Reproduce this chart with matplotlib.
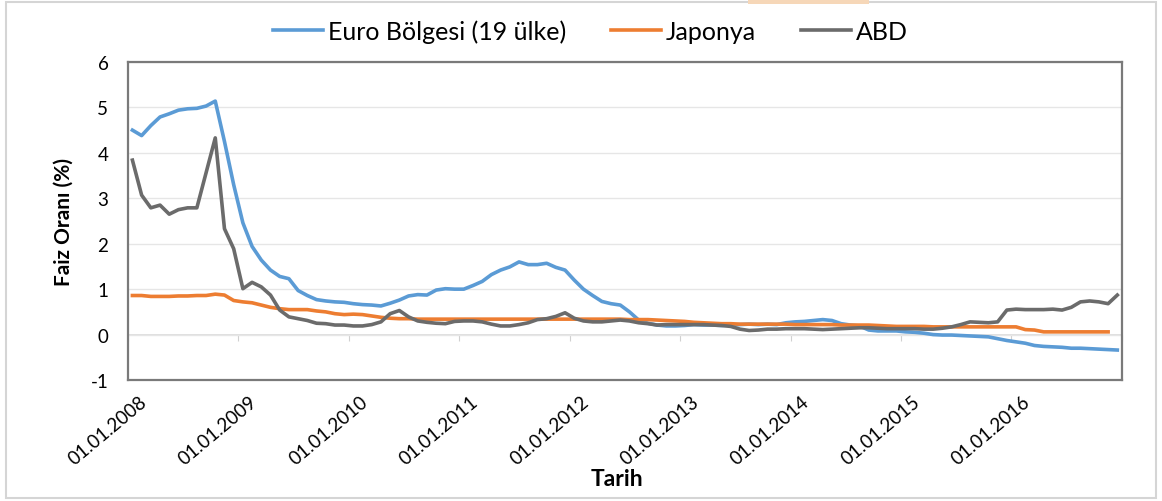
import matplotlib
matplotlib.use("Agg")
import matplotlib.pyplot as plt
import matplotlib.transforms as mtransforms
from matplotlib.patches import Rectangle
import numpy as np

plt.rcParams['font.family'] = ['Lato', 'DejaVu Sans']
plt.rcParams['axes.unicode_minus'] = False

# aylik faiz oranlari, Ocak 2008 - Aralik 2016
years = ['2008', '2009', '2010', '2011', '2012', '2013', '2014', '2015', '2016']
tick_labels = ['01.01.' + y for y in years]

euro = [
    4.50, 4.38, 4.60, 4.79, 4.86, 4.94, 4.97, 4.98, 5.03, 5.14, 4.25, 3.30,
    2.46, 1.94, 1.64, 1.42, 1.28, 1.23, 0.97, 0.86, 0.77, 0.74, 0.72, 0.71,
    0.68, 0.66, 0.65, 0.63, 0.69, 0.76, 0.85, 0.88, 0.87, 0.98, 1.01, 1.00,
    1.00, 1.08, 1.17, 1.32, 1.42, 1.49, 1.60, 1.54, 1.54, 1.57, 1.48, 1.42,
    1.20, 1.00, 0.86, 0.73, 0.68, 0.65, 0.50, 0.32, 0.25, 0.21, 0.19, 0.19,
    0.20, 0.22, 0.21, 0.21, 0.20, 0.21, 0.22, 0.23, 0.22, 0.23, 0.22, 0.26,
    0.28, 0.29, 0.31, 0.33, 0.31, 0.24, 0.21, 0.19, 0.10, 0.08, 0.08, 0.08,
    0.06, 0.05, 0.03, 0.00, -0.01, -0.01, -0.02, -0.03, -0.04, -0.05, -0.09, -0.13,
    -0.16, -0.19, -0.24, -0.26, -0.27, -0.28, -0.30, -0.30, -0.31, -0.32, -0.33, -0.34,
]

# Japonya serisi Kasim 2016'da bitiyor
japonya = [
    0.86, 0.86, 0.84, 0.84, 0.84, 0.85, 0.85, 0.86, 0.86, 0.89, 0.87, 0.75,
    0.72, 0.70, 0.65, 0.60, 0.57, 0.55, 0.55, 0.55, 0.52, 0.50, 0.46, 0.44,
    0.45, 0.44, 0.41, 0.38, 0.36, 0.35, 0.35, 0.34, 0.34, 0.34, 0.34, 0.34,
    0.34, 0.34, 0.34, 0.34, 0.34, 0.34, 0.34, 0.34, 0.34, 0.34, 0.34, 0.34,
    0.34, 0.34, 0.34, 0.34, 0.34, 0.34, 0.33, 0.33, 0.33, 0.32, 0.31, 0.30,
    0.29, 0.27, 0.26, 0.25, 0.24, 0.24, 0.23, 0.23, 0.23, 0.23, 0.23, 0.23,
    0.22, 0.22, 0.22, 0.22, 0.22, 0.21, 0.21, 0.21, 0.21, 0.20, 0.19, 0.18,
    0.18, 0.18, 0.18, 0.17, 0.17, 0.17, 0.17, 0.17, 0.17, 0.17, 0.17, 0.17,
    0.17, 0.11, 0.10, 0.06, 0.06, 0.06, 0.06, 0.06, 0.06, 0.06, 0.06,
]

abd = [
    3.84, 3.07, 2.79, 2.85, 2.65, 2.75, 2.79, 2.79, 3.56, 4.33, 2.33, 1.89,
    1.01, 1.15, 1.05, 0.87, 0.54, 0.39, 0.35, 0.31, 0.25, 0.24, 0.21, 0.21,
    0.19, 0.19, 0.22, 0.28, 0.46, 0.53, 0.39, 0.30, 0.27, 0.25, 0.24, 0.29,
    0.30, 0.30, 0.28, 0.23, 0.19, 0.19, 0.22, 0.26, 0.33, 0.35, 0.40, 0.48,
    0.36, 0.30, 0.28, 0.28, 0.30, 0.32, 0.30, 0.26, 0.24, 0.21, 0.22, 0.22,
    0.22, 0.22, 0.22, 0.21, 0.20, 0.18, 0.12, 0.09, 0.10, 0.12, 0.12, 0.13,
    0.13, 0.13, 0.12, 0.11, 0.12, 0.13, 0.14, 0.15, 0.15, 0.14, 0.13, 0.13,
    0.13, 0.13, 0.12, 0.12, 0.14, 0.17, 0.22, 0.28, 0.27, 0.26, 0.28, 0.54,
    0.56, 0.55, 0.55, 0.55, 0.56, 0.54, 0.60, 0.72, 0.74, 0.72, 0.68, 0.87,
]

series = [
    ('Euro Bölgesi (19 ülke)', euro, '#5B9BD5'),
    ('Japonya', japonya, '#ED7D31'),
    ('ABD', abd, '#6B6B6B'),
]

fig = plt.figure(figsize=(11.62, 5.02), dpi=100)
ax = fig.add_axes([0.110, 0.241, 0.8555, 0.6335])

# noktalar kategori ortasinda (ay basina bir kategori)
for name, vals, color in series:
    x = np.arange(len(vals)) + 0.5
    ax.plot(x, vals, color=color, lw=2.6, label=name, solid_joinstyle='round')

n = len(euro)
ax.set_xlim(0, n)
ax.set_ylim(-1, 6)
ax.set_yticks(range(-1, 7))
ax.yaxis.grid(True, color='#E6E6E6', lw=1)
ax.set_axisbelow(True)
ax.tick_params(axis='y', length=0, pad=14, labelsize=13.5)

ax.set_xticks(np.arange(0, n, 12))
ax.set_xticklabels(tick_labels, rotation=40, ha='right', va='top',
                   rotation_mode='anchor', fontsize=13.5)
ax.tick_params(axis='x', length=0, pad=9)
offset = mtransforms.ScaledTranslation(11 / 100, 0, fig.dpi_scale_trans)
for lbl in ax.get_xticklabels():
    lbl.set_transform(lbl.get_transform() + offset)

for sp in ax.spines.values():
    sp.set_color('#7A7A7A')
    sp.set_linewidth(1.6)

# sifir cizgisi ve yil isaretleri
zero_axis = ax.secondary_xaxis(1 / 7)
zero_axis.set_xticks(np.arange(0, n + 1, 12))
zero_axis.tick_params(direction='out', length=4, color='#D0D0D0', labelbottom=False)
zero_axis.spines['bottom'].set_color('#D9D9D9')
zero_axis.spines['bottom'].set_linewidth(1.2)
zero_axis.set_xticklabels([])

ax.set_ylabel('Faiz Oranı (%)', fontsize=15, fontweight='bold', labelpad=12)
fig.text(617 / 1162, 1 - 480 / 502, 'Tarih', fontsize=16.5, fontweight='bold',
         ha='center', va='center')

fig.legend(loc='center', bbox_to_anchor=(0.508, 0.936), ncol=3, frameon=False,
           fontsize=18, handlelength=2.0, handletextpad=0.2, columnspacing=1.8)

# dis cerceve
fig.patches.append(Rectangle((0.005, 0.006), 0.99, 0.988, transform=fig.transFigure,
                             fill=False, edgecolor='#D5D5D5', lw=1.5))
fig.patches.append(Rectangle((0.644, 0.99), 0.104, 0.01, transform=fig.transFigure,
                             color='#F6D7B8', lw=0))

fig.savefig('out.png', dpi=100)
